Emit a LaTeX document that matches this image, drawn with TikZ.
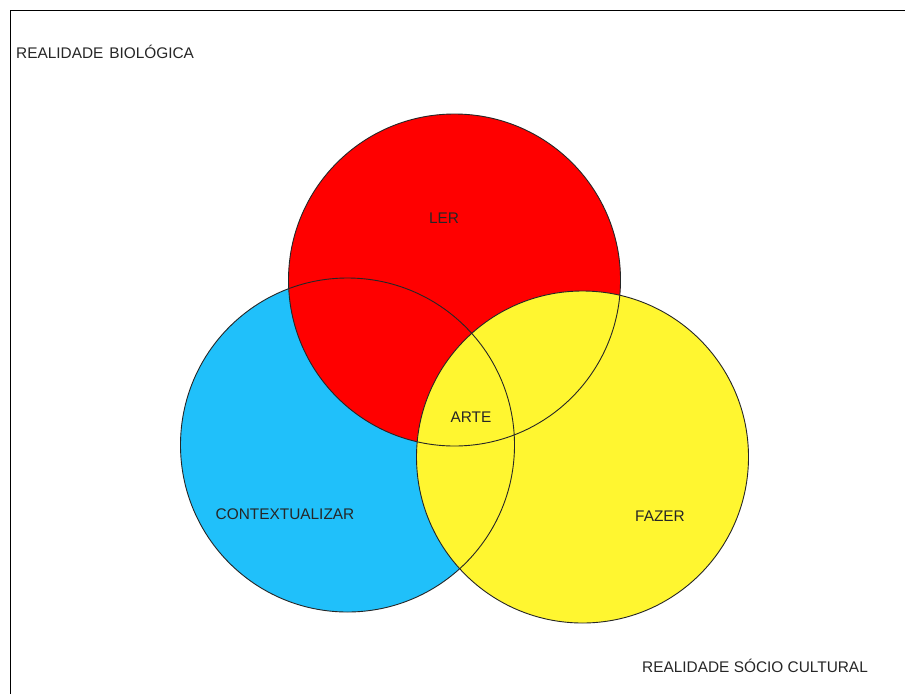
\documentclass[tikz,border=0pt]{standalone}
\usepackage{fontspec}
\setmainfont{Liberation Sans}
\definecolor{cblue}{RGB}{32,192,250}
\definecolor{cred}{RGB}{255,0,0}
\definecolor{cyellow}{RGB}{255,246,48}
\begin{document}
\begin{tikzpicture}[x=1pt,y=-1pt,
  lbl/.style={font=\fontsize{15.4}{17}\selectfont, text=black!85, inner sep=0pt},
  ring/.style={draw=black!85, line width=0.9pt}]
\useasboundingbox (0,0) rectangle (905,694);
\fill[white] (0,0) rectangle (905,694);
\draw[line width=1.2pt] (10.5,694) -- (10.5,10.5) -- (905,10.5);
% fills
\fill[cblue] (347.5,445) circle (167);
\fill[cred] (454.5,280) circle (166);
\fill[cyellow] (582.5,457) circle (166);
% outlines
\draw[ring] (347.5,445) circle (167);
\draw[ring] (454.5,280) circle (166);
\draw[ring] (582.5,457) circle (166);
% labels
\node[lbl] (ler) at (444,218) {LER};
\node[lbl] (arte) at (471,417) {ARTE};
\node[lbl] (ctx) at (285,514) {CONTEXTUALIZAR};
\node[lbl] (faz) at (660,516) {FAZER};
\node[lbl, anchor=west] (bio) at (16,52) {REALIDADE\hspace{1.5pt} BIOLÓGICA};
\node[lbl, anchor=west] (soc) at (642,666) {REALIDADE SÓCIO CULTURAL};
\end{tikzpicture}
\end{document}
